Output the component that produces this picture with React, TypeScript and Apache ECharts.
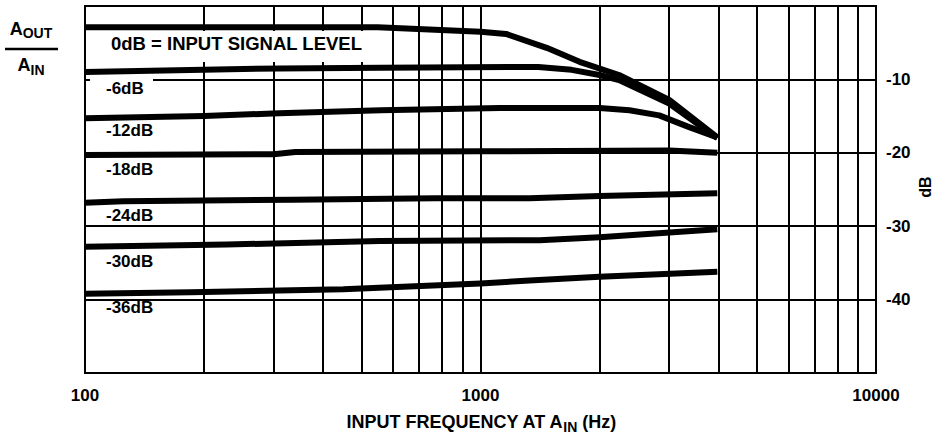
import React, { useEffect, useRef } from "react";
import * as echarts from "echarts";

// ---- data ----
const freqMin = 100;
const freqMax = 10000;
const minorFreqs = [200, 300, 400, 500, 600, 700, 800, 900, 2000, 3000, 4000, 5000, 6000, 7000, 8000, 9000];
const dbMin = -50;
const dbMax = 0;
const dbStep = 10;

const curve0dB: [number, number][] = [
  [100, -2.9], [550, -2.9], [1000, -3.5], [1160, -3.8], [1470, -5.7], [1780, -7.6], [2240, -9.4], [3000, -12.8], [3970, -17.9],
];
const curve6dB: [number, number][] = [
  [100, -9.0], [310, -8.5], [560, -8.4], [1400, -8.3], [1700, -8.7], [2000, -9.4], [2240, -10.1], [3000, -13.3], [3970, -18.0],
];
const curve12dB: [number, number][] = [
  [100, -15.3], [200, -15.0], [310, -14.6], [560, -14.2], [1120, -13.9], [2000, -13.9], [2380, -14.2], [2830, -14.9], [3370, -16.5], [3970, -17.9],
];
const curve18dB: [number, number][] = [
  [100, -20.3], [300, -20.2], [340, -19.9], [1000, -19.8], [3000, -19.7], [3970, -20.0],
];
const curve24dB: [number, number][] = [
  [100, -26.8], [125, -26.6], [335, -26.4], [770, -26.2], [1330, -26.2], [2000, -25.9], [3970, -25.5],
];
const curve30dB: [number, number][] = [
  [100, -32.8], [228, -32.5], [556, -32.0], [1410, -31.9], [2000, -31.5], [3970, -30.4],
];
const curve36dB: [number, number][] = [
  [100, -39.2], [185, -39.0], [450, -38.6], [1000, -37.8], [1330, -37.4], [2000, -36.9], [3970, -36.2],
];
const curves = [curve0dB, curve6dB, curve12dB, curve18dB, curve24dB, curve30dB, curve36dB];
const curveNames = ["0dB = INPUT SIGNAL LEVEL", "-6dB", "-12dB", "-18dB", "-24dB", "-30dB", "-36dB"];

const FONT = '"Liberation Sans", Arial, Helvetica, sans-serif';

export default function App() {
  const ref = useRef<HTMLDivElement>(null);

  useEffect(() => {
    if (!ref.current) return;
    const chart = echarts.init(ref.current, undefined, { renderer: "svg" });

    const labelStyle = (text: string, x: number, y: number, size = 17) => ({
      type: "text",
      x,
      y,
      z: 10,
      style: {
        text,
        fill: "#000",
        font: `bold ${size}px ${FONT}`,
        align: "left",
        verticalAlign: "middle",
      },
    });

    const series: any[] = [
      {
        type: "line",
        name: "grid",
        data: [],
        z: 1,
        silent: true,
        markLine: {
          silent: true,
          symbol: "none",
          label: { show: false },
          lineStyle: { color: "#000", width: 2, type: "solid" },
          data: minorFreqs.map((f) => ({ xAxis: f })),
        },
      },
      ...curves.map((c, i) => ({
        type: "line",
        name: curveNames[i],
        data: c,
        z: 3,
        showSymbol: false,
        symbol: "none",
        smooth: false,
        lineStyle: { color: "#000", width: 6, cap: "butt", join: "round" },
      })),
    ];

    chart.setOption({
      animation: false,
      backgroundColor: "#fff",
      grid: {
        left: 85,
        top: 6,
        right: 59,
        bottom: 63,
        show: true,
        borderColor: "#000",
        borderWidth: 2,
        backgroundColor: "#fff",
      },
      xAxis: {
        type: "log",
        logBase: 10,
        min: freqMin,
        max: freqMax,
        axisLine: { show: false },
        axisTick: { show: false },
        splitLine: { show: true, lineStyle: { color: "#000", width: 2 } },
        axisLabel: {
          color: "#000",
          fontFamily: FONT,
          fontWeight: "bold",
          fontSize: 17,
          margin: 14,
          formatter: (v: number) => String(Math.round(v)),
        },
      },
      yAxis: {
        type: "value",
        position: "right",
        min: dbMin,
        max: dbMax,
        interval: dbStep,
        axisLine: { show: false },
        axisTick: { show: false },
        splitLine: { show: true, lineStyle: { color: "#000", width: 2 } },
        axisLabel: {
          color: "#000",
          fontFamily: FONT,
          fontWeight: "bold",
          fontSize: 17,
          margin: 10,
          showMinLabel: false,
          showMaxLabel: false,
        },
      },
      series,
      graphic: [
        { type: "rect", z: 9, shape: { x: 104, y: 31, width: 262, height: 31 }, style: { fill: "#fff" } },
        labelStyle(curveNames[0], 111, 43, 18.5),
        { type: "rect", z: 9, shape: { x: 90, y: 77, width: 63, height: 20 }, style: { fill: "#fff" } },
        labelStyle(curveNames[1], 106, 88),
        labelStyle(curveNames[2], 106, 130),
        labelStyle(curveNames[3], 106, 169),
        labelStyle(curveNames[4], 106, 215),
        labelStyle(curveNames[5], 106, 261),
        labelStyle(curveNames[6], 106, 307),
        {
          type: "text",
          x: 31,
          y: 30,
          z: 10,
          style: {
            text: "{a|A}{s|OUT}",
            align: "center",
            verticalAlign: "middle",
            rich: {
              a: { font: `bold 18px ${FONT}`, fill: "#000", verticalAlign: "bottom", padding: [0, 0, 2, 0] },
              s: { font: `bold 14px ${FONT}`, fill: "#000", verticalAlign: "bottom" },
            },
          },
        },
        { type: "line", z: 10, shape: { x1: 5, y1: 49, x2: 58, y2: 49 }, style: { stroke: "#000", lineWidth: 2.5 } },
        {
          type: "text",
          x: 31,
          y: 66,
          z: 10,
          style: {
            text: "{a|A}{s|IN}",
            align: "center",
            verticalAlign: "middle",
            rich: {
              a: { font: `bold 18px ${FONT}`, fill: "#000", verticalAlign: "bottom", padding: [0, 0, 3, 0] },
              s: { font: `bold 14px ${FONT}`, fill: "#000", verticalAlign: "bottom" },
            },
          },
        },
        {
          type: "text",
          x: 481,
          y: 423,
          z: 10,
          style: {
            text: "{a|INPUT FREQUENCY AT A}{s|IN}{a| (Hz)}",
            align: "center",
            verticalAlign: "middle",
            rich: {
              a: { font: `bold 18px ${FONT}`, fill: "#000", verticalAlign: "bottom", padding: [0, 0, 3, 0] },
              s: { font: `bold 14px ${FONT}`, fill: "#000", verticalAlign: "bottom" },
            },
          },
        },
        {
          type: "text",
          x: 925,
          y: 187,
          rotation: Math.PI / 2,
          z: 10,
          style: {
            text: "dB",
            fill: "#000",
            font: `bold 16px ${FONT}`,
            align: "center",
            verticalAlign: "middle",
          },
        },
      ],
    });

    return () => chart.dispose();
  }, []);

  return (
    <div
      ref={ref}
      style={{ position: "fixed", left: 0, top: 0, width: 935, height: 436, background: "#fff" }}
    />
  );
}
